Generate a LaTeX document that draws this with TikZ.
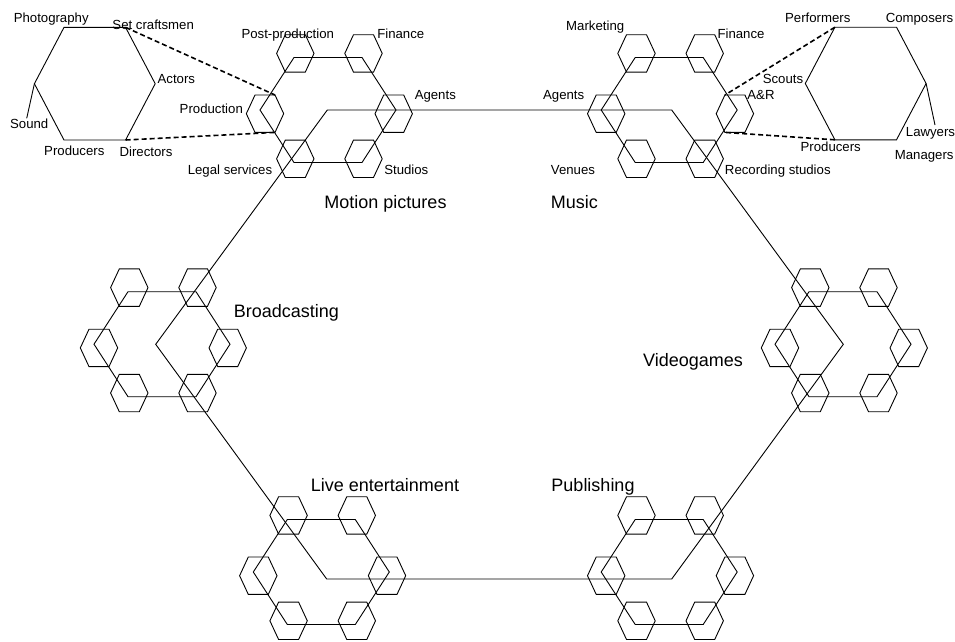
\documentclass[tikz,border=0pt]{standalone}
\usepackage{fontspec}
\setmainfont{Liberation Sans}
\tikzset{
  hexline/.style={draw=black, line width=0.9pt, line join=miter},
  dashline/.style={draw=black, line width=1.6pt, dash pattern=on 5pt off 3pt},
  lbl/.style={font=\fontsize{13.2}{15}\selectfont, inner sep=0pt, anchor=base},
  biglbl/.style={font=\fontsize{18}{21}\selectfont, inner sep=0pt, anchor=base},
  smallhex/.pic={\draw[hexline] (-10,-18.7) -- (10,-18.7) -- (18.7,0) -- (10,18.7) -- (-10,18.7) -- (-18.7,0) -- cycle;}
}
\newcommand\drawcluster[3]{%
  \begin{scope}[shift={(#2,#3)}]
    \coordinate (#1) at (0,0);
    \draw[hexline] (-34,-52.5) -- (34,-52.5) -- (68,0) -- (34,52.5) -- (-34,52.5) -- (-68,0) -- cycle;
    \coordinate (#1-tl) at (-32.7,-56.6);
    \coordinate (#1-tr) at (35.5,-56.6);
    \coordinate (#1-l)  at (-63,3.7);
    \coordinate (#1-r)  at (65.7,3.7);
    \coordinate (#1-bl) at (-32.7,48.8);
    \coordinate (#1-br) at (35.5,48.8);
    \coordinate (#1-ltr) at (-53,-15);
    \coordinate (#1-lbr) at (-53,22.4);
    \coordinate (#1-rtl) at (55.7,-15);
    \coordinate (#1-rbl) at (55.7,22.4);
    \pic at (#1-tl) {smallhex};
    \pic at (#1-tr) {smallhex};
    \pic at (#1-l) {smallhex};
    \pic at (#1-r) {smallhex};
    \pic at (#1-bl) {smallhex};
    \pic at (#1-br) {smallhex};
  \end{scope}}
\newcommand\drawdetail[3]{%
  \begin{scope}[shift={(#2,#3)}]
    \coordinate (#1-tl) at (-30.8,-56.3);
    \coordinate (#1-tr) at (30.8,-56.3);
    \coordinate (#1-r)  at (60.4,0);
    \coordinate (#1-br) at (30.8,56.3);
    \coordinate (#1-bl) at (-30.8,56.3);
    \coordinate (#1-l)  at (-60.4,0);
    \draw[hexline] (#1-tl) -- (#1-tr) -- (#1-r) -- (#1-br) -- (#1-bl) -- (#1-l) -- cycle;
  \end{scope}}
\begin{document}
\begin{tikzpicture}[x=1pt, y=-1pt]
  \useasboundingbox (0,0) rectangle (955,641);
  % big hexagon
  \coordinate (bh1) at (327.3,110);
  \coordinate (bh2) at (671.7,110);
  \coordinate (bh3) at (843.3,344.3);
  \coordinate (bh4) at (671.7,579);
  \coordinate (bh5) at (326.7,579);
  \coordinate (bh6) at (155.7,344.3);
  \draw[hexline] (bh1) -- (bh2) -- (bh3) -- (bh4) -- (bh5) -- (bh6) -- cycle;
  % clusters
  \drawcluster{mp}{328}{110}
  \drawcluster{mu}{669.2}{110}
  \drawcluster{br}{162}{344.2}
  \drawcluster{vg}{843}{344.2}
  \drawcluster{le}{321.3}{572}
  \drawcluster{pu}{669.2}{572}
  % detail hexagons
  \drawdetail{dl}{94.8}{83.7}
  \drawdetail{dr}{865.7}{83.5}
  \coordinate (soundend) at (26.7,118.3);
  \coordinate (lawend) at (935,125);
  \draw[hexline] (dl-l) -- (soundend);
  \draw[hexline] (dr-r) -- (lawend);
  % dashed zoom lines
  \draw[dashline] (dl-tr) -- (mp-ltr);
  \draw[dashline] (dl-br) -- (mp-lbr);
  \draw[dashline] (dr-tl) -- (mu-rtl);
  \draw[dashline] (dr-bl) -- (mu-rbl);
  % left detail labels
  \node[lbl] (tphoto) at (51.2,22) {Photography};
  \node[lbl] (tsetc) at (153.2,29.7) {Set craftsmen};
  \node[lbl] (tactors) at (176.3,83.7) {Actors};
  \node[lbl] (tsound) at (29.2,128.7) {Sound};
  \node[lbl] (tprodl) at (74.3,155.4) {Producers};
  \node[lbl] (tdirs) at (146,156.4) {Directors};
  % motion pictures labels
  \node[lbl] (tpostp) at (287.8,38) {Post-production};
  \node[lbl] (tfinl) at (400.8,38) {Finance};
  \node[lbl] (tagentsl) at (435.3,99) {Agents};
  \node[lbl] (tproduction) at (211.3,113) {Production};
  \node[lbl] (tlegal) at (230,174) {Legal services};
  \node[lbl] (tstudios) at (406.3,174) {Studios};
  % music labels
  \node[lbl] (tmarketing) at (595.2,30.7) {Marketing};
  \node[lbl] (tfinr) at (741,38) {Finance};
  \node[lbl] (tagentsr) at (563.7,99) {Agents};
  \node[lbl] (tar) at (761,99) {A\&R};
  \node[lbl] (tvenues) at (573,174.7) {Venues};
  \node[lbl] (trec) at (777.8,174.7) {Recording studios};
  % right detail labels
  \node[lbl] (tperf) at (817.8,22) {Performers};
  \node[lbl] (tcomp) at (919.5,22) {Composers};
  \node[lbl] (tscouts) at (783,83.7) {Scouts};
  \node[lbl] (tlawyers) at (930.5,136.4) {Lawyers};
  \node[lbl] (tprodr) at (830.7,151.4) {Producers};
  \node[lbl] (tmanagers) at (924.2,159) {Managers};
  % big labels
  \node[biglbl] (tmp) at (385.5,208.1) {Motion pictures};
  \node[biglbl] (tmusic) at (574.3,208.7) {Music};
  \node[biglbl] (tbroad) at (286.3,317.1) {Broadcasting};
  \node[biglbl] (tvg) at (693,366.4) {Videogames};
  \node[biglbl] (tlive) at (385,491.3) {Live entertainment};
  \node[biglbl] (tpub) at (593,491.3) {Publishing};
\end{tikzpicture}
\end{document}
